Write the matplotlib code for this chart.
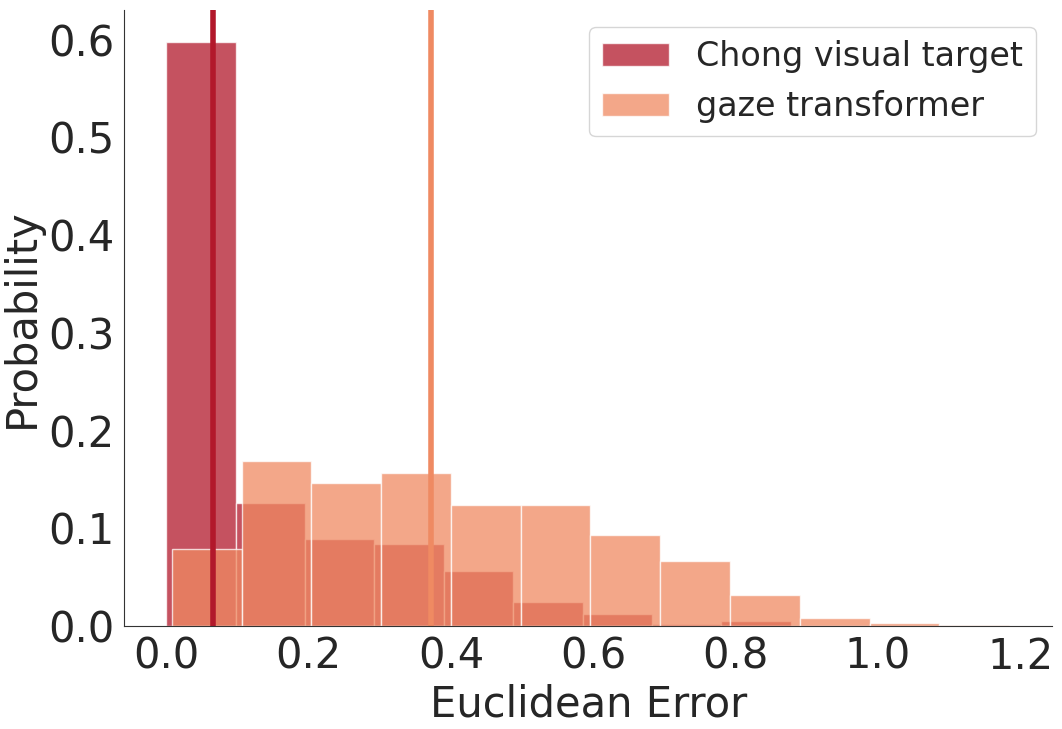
import numpy as np
import matplotlib.pyplot as plt
import seaborn as sns

# histogram bins (left edges, probabilities)
chong_edges = [0.0, 0.0975, 0.195, 0.2925, 0.39, 0.4875, 0.585, 0.6825, 0.78]
chong_prob = [0.597, 0.126, 0.089, 0.084, 0.056, 0.025, 0.012, 0.002, 0.005]
gaze_edges = [0.008, 0.106, 0.204, 0.302, 0.40, 0.498, 0.596, 0.694, 0.792, 0.89, 0.988, 1.086]
gaze_prob = [0.079, 0.169, 0.146, 0.157, 0.124, 0.124, 0.093, 0.067, 0.032, 0.008, 0.003, 0.001]
chong_width = 0.0975
gaze_width = 0.098
chong_mean = 0.066
gaze_mean = 0.372

sns.set_style("white")
plt.rcParams['font.family'] = ['DejaVu Sans']

fig = plt.figure(figsize=(10.62, 7.29), dpi=100)
ax = fig.add_axes([0.117, 0.141, 0.874, 0.845])

red = '#b2182b'
orange = '#ef8a62'
ax.bar(chong_edges, chong_prob, width=chong_width, align='edge', color=red, alpha=0.75,
       edgecolor='white', linewidth=1, label='Chong visual target')
ax.bar(gaze_edges, gaze_prob, width=gaze_width, align='edge', color=orange, alpha=0.75,
       edgecolor='white', linewidth=1, label='gaze transformer')
ax.axvline(chong_mean, color=red, lw=4)
ax.axvline(gaze_mean, color=orange, lw=4)

ax.set_xlim(-0.059, 1.245)
ax.set_ylim(0, 0.63)
ax.set_xticks(np.arange(0, 1.21, 0.2))
ax.set_yticks(np.arange(0, 0.61, 0.1))
ax.tick_params(labelsize=30)
ax.set_xlabel('Euclidean Error', fontsize=30)
ax.set_ylabel('Probability', fontsize=30)
ax.legend(fontsize=24, loc='upper right')
sns.despine(ax=ax)
for s in ['left', 'bottom']:
    ax.spines[s].set_color('#333333')

fig.savefig('out.png', dpi=100)
